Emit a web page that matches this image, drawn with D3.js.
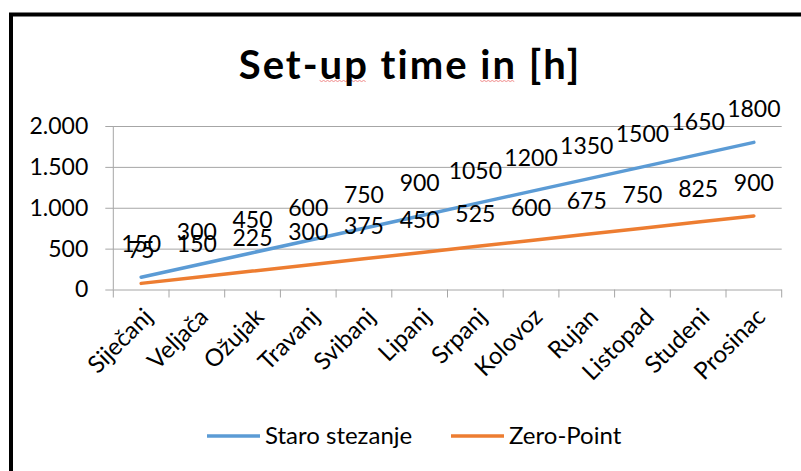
<!DOCTYPE html>
<html>
<head>
<meta charset="utf-8">
<script src="https://cdn.jsdelivr.net/npm/d3@7"></script>
<style>
  html, body { margin: 0; padding: 0; background: #fff; }
  svg { display: block; }
  text { font-family: Lato, "Open Sans", sans-serif; fill: #000; font-variant-ligatures: none; }
</style>
</head>
<body>
<svg id="chart" width="801" height="471"></svg>
<script>
// Months (Croatian)
const months = ["Siječanj", "Veljača", "Ožujak", "Travanj", "Svibanj", "Lipanj",
                "Srpanj", "Kolovoz", "Rujan", "Listopad", "Studeni", "Prosinac"];
// Set-up time in hours per month
const staroStezanje = [150, 300, 450, 600, 750, 900, 1050, 1200, 1350, 1500, 1650, 1800];
const zeroPoint     = [75, 150, 225, 300, 375, 450, 525, 600, 675, 750, 825, 900];
const yTicks = [0, 500, 1000, 1500, 2000];
const seriesNames = ["Staro stezanje", "Zero-Point"];
const seriesColors = ["#5B9BD5", "#ED7D31"];

const series = [
  { name: seriesNames[0], color: seriesColors[0], values: staroStezanje },
  { name: seriesNames[1], color: seriesColors[1], values: zeroPoint }
];

const svg = d3.select("#chart");

// Chart frame
svg.append("rect")
  .attr("x", 11).attr("y", 14.5)
  .attr("width", 840).attr("height", 500)
  .attr("fill", "none").attr("stroke", "#000").attr("stroke-width", 4);

// Title
const titleText = "Set-up time in [h]";
const title = svg.append("text")
  .attr("x", 410).attr("y", 79)
  .attr("text-anchor", "middle")
  .style("font-size", "40px").style("font-weight", "bold")
  .style("letter-spacing", "2px")
  .text(titleText);

// Proofing squiggles under "up" and "in", drawn beneath the title glyphs
const tNode = title.node();
function squiggle(start, len) {
  const x0 = tNode.getStartPositionOfChar(start).x;
  const x1 = tNode.getEndPositionOfChar(start + len - 1).x - 2;
  const yb = 80.5;
  const pts = [];
  for (let xx = x0, k = 0; xx <= x1; xx += 2, k++) pts.push([xx, yb + (k % 2 ? 1 : 0)]);
  svg.insert("path", () => tNode)
    .attr("d", d3.line()(pts))
    .attr("fill", "none").attr("stroke", "#f08a8a").attr("stroke-width", 1);
}
squiggle(titleText.indexOf("up"), 2);
squiggle(titleText.indexOf("in"), 2);

const plot = { left: 113.3, right: 781.7, top: 126, bottom: 289.5 };

const x = d3.scalePoint().domain(months).range([plot.left, plot.right]).padding(0.5);
const y = d3.scaleLinear().domain([0, 2000]).range([plot.bottom, plot.top]);
const step = x.step();

const fmt = d3.formatLocale({ decimal: ",", thousands: ".", grouping: [3], currency: ["", ""] }).format(",");

const grid = "#a6a6a6";

// Horizontal gridlines with short outward ticks
const yAxis = svg.append("g").attr("transform", `translate(${plot.left},0)`)
  .call(d3.axisLeft(y).tickValues(yTicks).tickFormat(fmt).tickSize(8).tickPadding(17));
yAxis.select(".domain").remove();
yAxis.selectAll(".tick line").attr("stroke", grid);
yAxis.selectAll(".tick").append("line")
  .attr("x1", 0).attr("x2", plot.right - plot.left)
  .attr("stroke", grid);
yAxis.selectAll(".tick text").style("font-size", "23px").style("font-family", "Lato, sans-serif").attr("fill", "#000");

// Vertical axis line
svg.append("line")
  .attr("x1", plot.left).attr("x2", plot.left)
  .attr("y1", plot.top).attr("y2", plot.bottom)
  .attr("stroke", grid);

// Category boundary ticks below the baseline
const bounds = d3.range(months.length + 1).map(i => plot.left + i * step);
svg.append("g").selectAll("line").data(bounds).join("line")
  .attr("x1", d => d).attr("x2", d => d)
  .attr("y1", plot.bottom).attr("y2", plot.bottom + 8)
  .attr("stroke", grid);

// Category labels, rotated
svg.append("g").selectAll("text").data(months).join("text")
  .attr("transform", d => `translate(${x(d) + 7},${plot.bottom + 23}) rotate(-45)`)
  .attr("text-anchor", "end")
  .attr("dy", "0.35em")
  .style("font-size", "24px")
  .text(d => d);

// Lines
const line = d3.line().x((d, i) => x(months[i])).y(d => y(d));
svg.append("g").selectAll("path").data(series).join("path")
  .attr("d", s => line(s.values))
  .attr("fill", "none")
  .attr("stroke", s => s.color)
  .attr("stroke-width", 3.5)
  .attr("stroke-linecap", "round");

// Data labels above each point
series.forEach(s => {
  svg.append("g").selectAll("text").data(s.values).join("text")
    .attr("x", (d, i) => x(months[i]))
    .attr("y", d => y(d) - 33)
    .attr("dy", "0.35em")
    .attr("text-anchor", "middle")
    .style("font-size", "23px")
    .text(d => d);
});

// Legend
const legendItems = [
  { name: seriesNames[0], color: seriesColors[0], x: 207 },
  { name: seriesNames[1], color: seriesColors[1], x: 451 }
];
const lg = svg.append("g").selectAll("g").data(legendItems).join("g")
  .attr("transform", d => `translate(${d.x},436)`);
lg.append("line")
  .attr("x1", 0).attr("x2", 53)
  .attr("stroke", d => d.color).attr("stroke-width", 3.5);
lg.append("text")
  .attr("x", 58).attr("dy", "0.35em")
  .style("font-size", "24px")
  .text(d => d.name);
</script>
</body>
</html>
